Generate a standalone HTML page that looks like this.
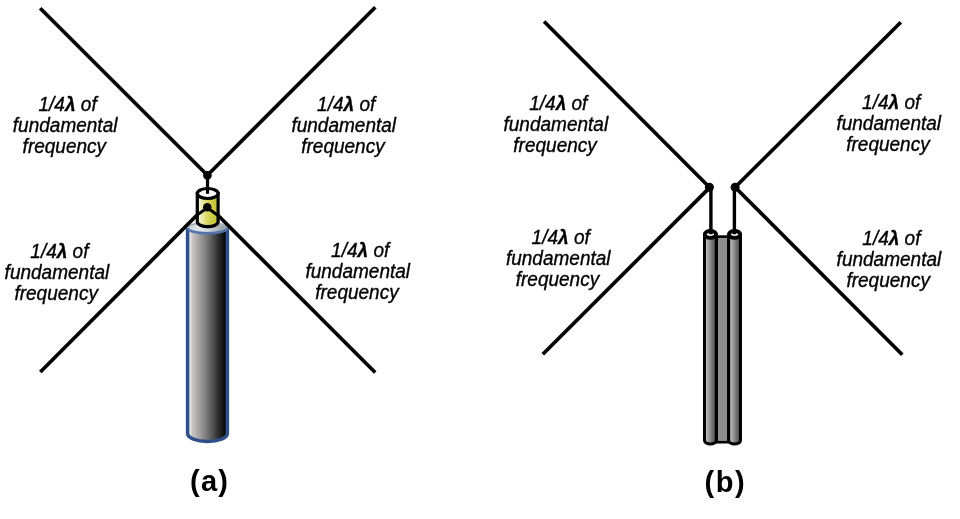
<!DOCTYPE html>
<html>
<head>
<meta charset="utf-8">
<style>
html,body{margin:0;padding:0;background:#fff;width:960px;height:519px;overflow:hidden;}
svg{position:absolute;left:0;top:0;will-change:transform;}
text{font-family:"Liberation Sans",sans-serif;}
.lbl{font-size:19.5px;font-style:italic;fill:#000;stroke:#000;stroke-width:0.35px;}
.lam{font-weight:bold;}
.cap{font-size:29px;font-weight:bold;fill:#000;letter-spacing:1.2px;}
</style>
</head>
<body>
<svg width="960" height="519" viewBox="0 0 960 519">
<defs>
  <linearGradient id="coax" x1="0" y1="0" x2="1" y2="0">
    <stop offset="0" stop-color="#eef4f6"/>
    <stop offset="0.07" stop-color="#e0e4e6"/>
    <stop offset="0.12" stop-color="#c8c4c4"/>
    <stop offset="0.45" stop-color="#808080"/>
    <stop offset="0.75" stop-color="#333"/>
    <stop offset="0.97" stop-color="#000"/>
    <stop offset="1" stop-color="#000"/>
  </linearGradient>
  <linearGradient id="coaxtop" x1="0" y1="0" x2="1" y2="0">
    <stop offset="0" stop-color="#c8d0d8"/>
    <stop offset="0.35" stop-color="#e4eaee"/>
    <stop offset="1" stop-color="#8e969c"/>
  </linearGradient>
  <linearGradient id="yel" x1="0" y1="0" x2="1" y2="0">
    <stop offset="0" stop-color="#fafaf0"/>
    <stop offset="0.14" stop-color="#f0f0c8"/>
    <stop offset="0.5" stop-color="#d8d65c"/>
    <stop offset="1" stop-color="#c2be32"/>
  </linearGradient>
  <linearGradient id="tube" x1="0" y1="0" x2="1" y2="0">
    <stop offset="0" stop-color="#a8a8a8"/>
    <stop offset="0.15" stop-color="#bcbcbc"/>
    <stop offset="0.6" stop-color="#7a7a7a"/>
    <stop offset="1" stop-color="#404040"/>
  </linearGradient>
</defs>

<!-- ===== (a) ===== -->
<g stroke="#000" stroke-width="3.7" fill="none">
  <line x1="40.2" y1="8.2" x2="207.4" y2="175.3"/>
  <line x1="375.3" y1="7.2" x2="207.4" y2="175.3"/>
</g>

<!-- coax body -->
<path d="M187.6 228 L187.6 433.5 A19.9 8 0 0 0 227.4 433.5 L227.4 228 Z" fill="url(#coax)" stroke="#2e4f88" stroke-width="3.5"/>
<path d="M187.6 228 A19.9 5.2 0 0 1 227.4 228" fill="url(#coaxtop)" stroke="#a8b2bc" stroke-width="2"/>
<path d="M187.6 228 A19.9 5.2 0 0 0 227.4 228" fill="url(#coaxtop)" stroke="#5274aa" stroke-width="2.6"/>

<!-- small yellow cylinder -->
<path d="M197.3 193.5 L197.3 221.8 A10.4 4.8 0 0 0 218.1 221.8 L218.1 193.5 Z" fill="url(#yel)" stroke="#000" stroke-width="3.2"/>
<ellipse cx="207.7" cy="193.5" rx="10.4" ry="5" fill="#fff" stroke="#000" stroke-width="3.2"/>
<line x1="207.5" y1="175" x2="207.5" y2="193.8" stroke="#000" stroke-width="3.2"/>
<circle cx="207.4" cy="175.4" r="4.3" fill="#000"/>

<!-- lower lines -->
<g stroke="#000" stroke-width="3.7" fill="none">
  <line x1="197.8" y1="214.3" x2="40.3" y2="372.0"/>
  <line x1="217.2" y1="214.5" x2="375.2" y2="372.5"/>
</g>
<g stroke="#000" stroke-width="3" fill="none" stroke-linecap="round">
  <line x1="207.3" y1="207.8" x2="198" y2="214.4"/>
  <line x1="207.3" y1="207.8" x2="217" y2="214.8"/>
</g>
<circle cx="207.3" cy="207.2" r="4.2" fill="#000"/>

<text class="cap" x="190.1" y="490.7">(a)</text>

<!-- ===== (b) ===== -->
<g stroke="#000" stroke-width="3.7" fill="none">
  <line x1="544.1" y1="21.5" x2="709.4" y2="187.3"/>
  <line x1="709.4" y1="187.9" x2="542.8" y2="354.3"/>
  <line x1="900.8" y1="22.2" x2="735.1" y2="187.3"/>
  <line x1="735.1" y1="187.3" x2="902.3" y2="354.7"/>
</g>

<!-- twin lead web -->
<rect x="716.5" y="236.6" width="12" height="205.6" fill="#8e8e8e" stroke="#000" stroke-width="2.6"/>
<!-- left tube -->
<path d="M704.5 234.5 L704.5 440.6 A5.9 3.4 0 0 0 716.3 440.6 L716.3 234.5 Z" fill="url(#tube)" stroke="#000" stroke-width="3"/>
<ellipse cx="710.4" cy="234.4" rx="5.6" ry="3.4" fill="#fff" stroke="#000" stroke-width="3.8"/>
<!-- right tube -->
<path d="M728.7 234.5 L728.7 440.6 A5.9 3.4 0 0 0 740.5 440.6 L740.5 234.5 Z" fill="url(#tube)" stroke="#000" stroke-width="3"/>
<ellipse cx="734.6" cy="234.4" rx="5.6" ry="3.4" fill="#fff" stroke="#000" stroke-width="3.8"/>

<g stroke="#000" stroke-width="3.4" fill="none">
  <line x1="710.9" y1="187" x2="710.9" y2="234.3"/>
  <line x1="734.4" y1="187" x2="734.4" y2="234.3"/>
</g>
<circle cx="709.4" cy="187.3" r="4.5" fill="#000"/>
<circle cx="735.1" cy="187.3" r="4.5" fill="#000"/>

<text class="cap" x="704.6" y="492.1" style="letter-spacing:1.5px">(b)</text>

<!-- ===== labels ===== -->
<!-- A-TL -->
<text class="lbl" transform="matrix(0.975 0 0 1 38.52 110.60)">1/4<tspan class="lam">λ</tspan> of</text>
<text class="lbl" transform="matrix(0.975 0 0 1 12.83 131.90)">fundamental</text>
<text class="lbl" transform="matrix(0.975 0 0 1 22.62 153.30)">frequency</text>
<!-- A-TR -->
<text class="lbl" transform="matrix(0.975 0 0 1 317.12 110.60)">1/4<tspan class="lam">λ</tspan> of</text>
<text class="lbl" transform="matrix(0.975 0 0 1 291.43 131.80)">fundamental</text>
<text class="lbl" transform="matrix(0.975 0 0 1 301.23 152.80)">frequency</text>
<!-- A-BL -->
<text class="lbl" transform="matrix(0.975 0 0 1 30.32 258.10)">1/4<tspan class="lam">λ</tspan> of</text>
<text class="lbl" transform="matrix(0.975 0 0 1 4.62 278.80)">fundamental</text>
<text class="lbl" transform="matrix(0.975 0 0 1 14.42 299.80)">frequency</text>
<!-- A-BR -->
<text class="lbl" transform="matrix(0.975 0 0 1 331.12 257.40)">1/4<tspan class="lam">λ</tspan> of</text>
<text class="lbl" transform="matrix(0.975 0 0 1 305.43 277.90)">fundamental</text>
<text class="lbl" transform="matrix(0.975 0 0 1 315.23 299.30)">frequency</text>
<!-- B-TL -->
<text class="lbl" transform="matrix(0.975 0 0 1 529.22 110.00)">1/4<tspan class="lam">λ</tspan> of</text>
<text class="lbl" transform="matrix(0.975 0 0 1 503.52 130.70)">fundamental</text>
<text class="lbl" transform="matrix(0.975 0 0 1 513.32 151.70)">frequency</text>
<!-- B-TR -->
<text class="lbl" transform="matrix(0.975 0 0 1 862.12 108.90)">1/4<tspan class="lam">λ</tspan> of</text>
<text class="lbl" transform="matrix(0.975 0 0 1 836.42 129.60)">fundamental</text>
<text class="lbl" transform="matrix(0.975 0 0 1 846.23 150.60)">frequency</text>
<!-- B-BL -->
<text class="lbl" transform="matrix(0.975 0 0 1 531.62 244.40)">1/4<tspan class="lam">λ</tspan> of</text>
<text class="lbl" transform="matrix(0.975 0 0 1 505.93 265.10)">fundamental</text>
<text class="lbl" transform="matrix(0.975 0 0 1 515.73 286.10)">frequency</text>
<!-- B-BR -->
<text class="lbl" transform="matrix(0.975 0 0 1 862.32 244.90)">1/4<tspan class="lam">λ</tspan> of</text>
<text class="lbl" transform="matrix(0.975 0 0 1 836.62 265.60)">fundamental</text>
<text class="lbl" transform="matrix(0.975 0 0 1 846.42 286.60)">frequency</text>
</svg>
</body>
</html>
